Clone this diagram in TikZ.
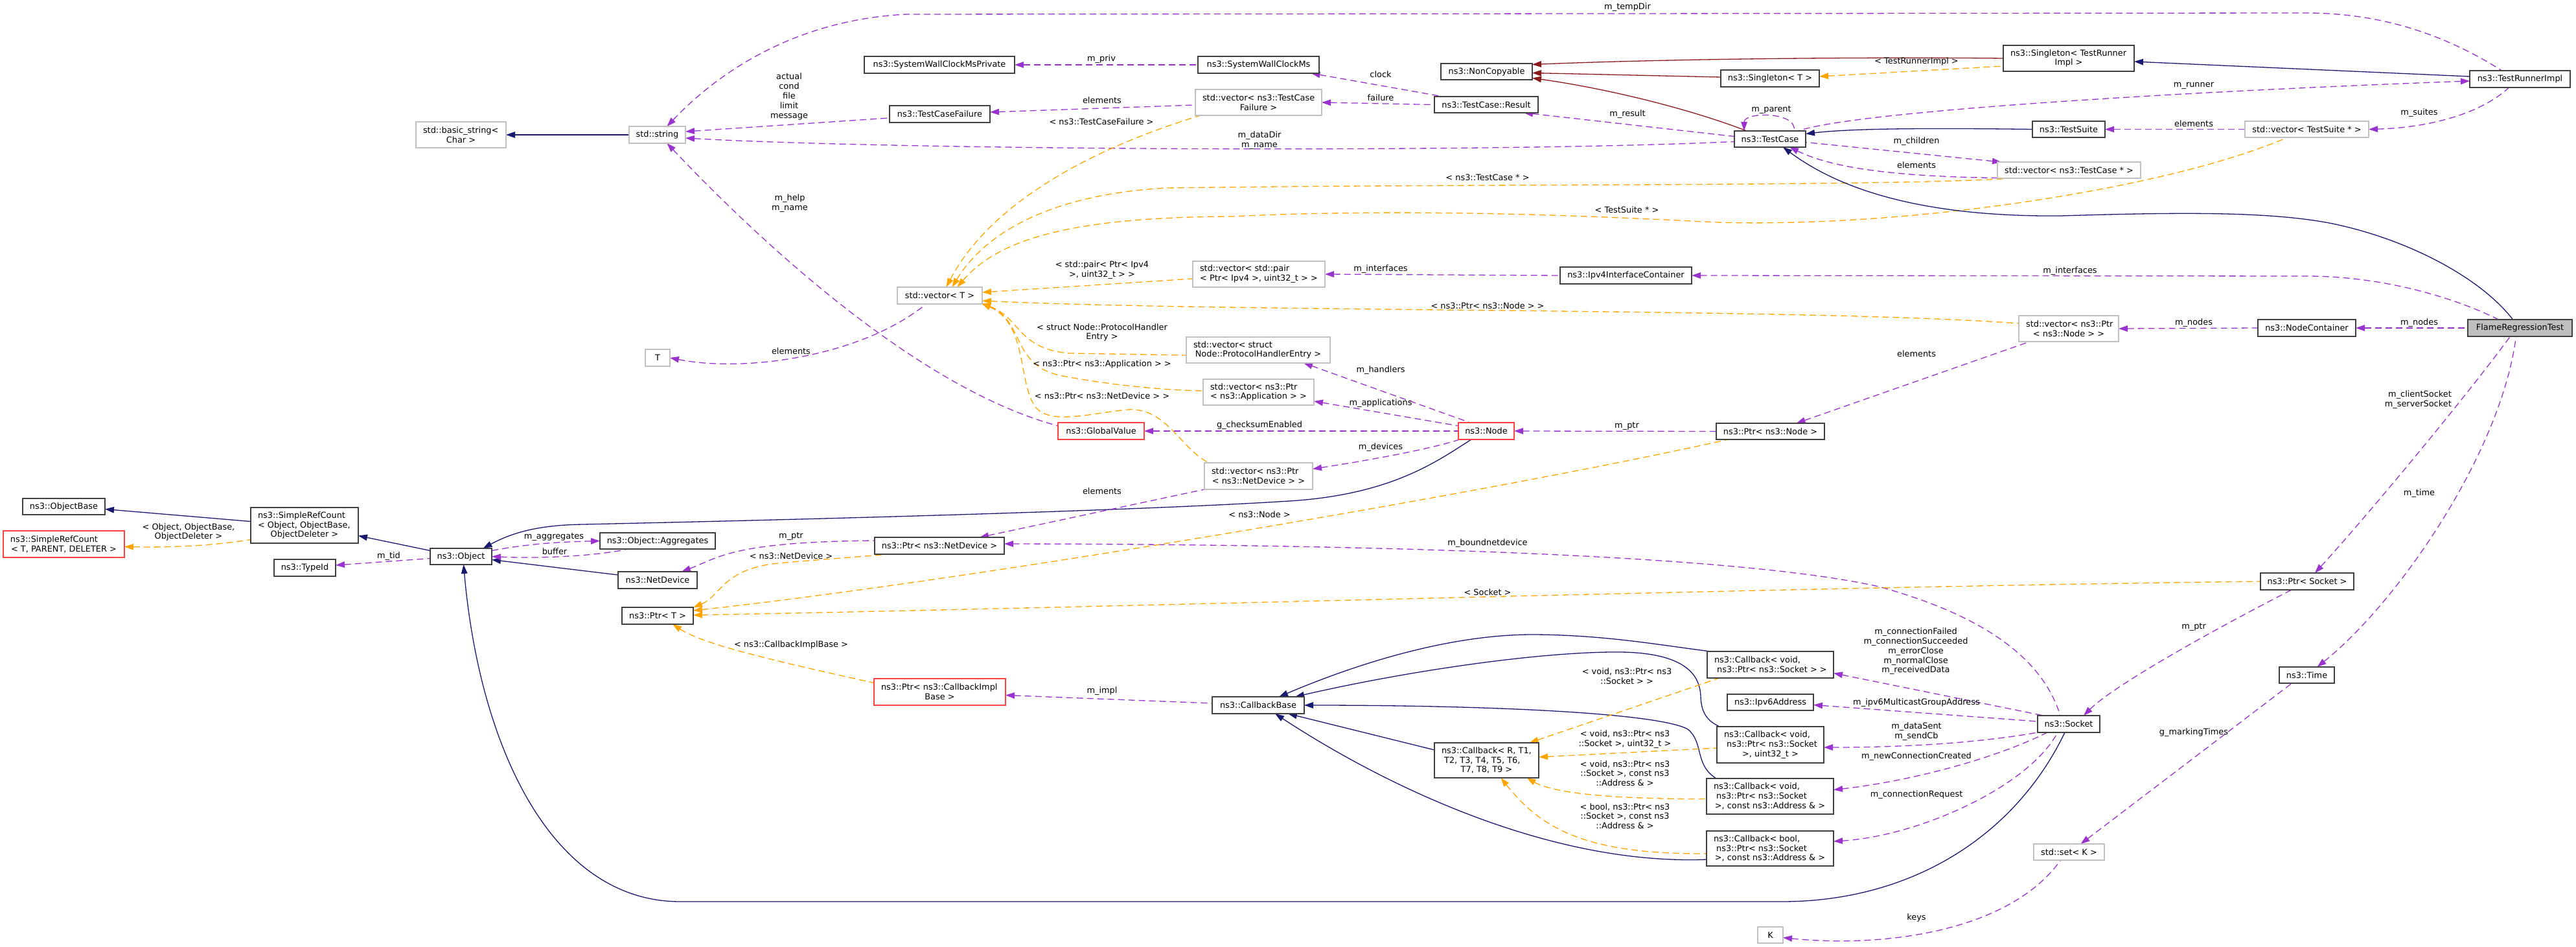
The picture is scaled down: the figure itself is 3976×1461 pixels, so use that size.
\documentclass[tikz,border=0pt]{standalone}
\usepackage{fontspec}
\setmainfont{DejaVu Sans}
\usetikzlibrary{arrows.meta}
\definecolor{usec}{HTML}{9A32CD}
\definecolor{tplc}{HTML}{FFA500}
\definecolor{inhc}{HTML}{191970}
\definecolor{prvc}{HTML}{8B1A1A}
\definecolor{greyb}{HTML}{C0C0C0}
\definecolor{mainf}{HTML}{BFBFBF}
\definecolor{redb}{HTML}{FF4040}
\definecolor{darkb}{HTML}{404040}
\newcommand\dfs{\fontsize{12.9}{14.8}\selectfont}
\pgfdeclarelayer{edges}
\pgfsetlayers{edges,main}
\newcommand{\mkbox}[7]{%
  \pgfmathsetmacro\bw{#5-#3}%
  \pgfmathsetmacro\bh{#6-#4}%
  \pgfmathsetmacro\bcx{(#3+#5)/2}%
  \pgfmathsetmacro\bcy{(#4+#6)/2}%
  \node[#2, minimum width=\bw pt, minimum height=\bh pt] (#1) at (\bcx,\bcy) {#7};}
\newcommand{\MLa}[2]{\parbox{\dimexpr\bw pt-22pt\relax}{\raggedright\mbox{#1}\par\centering\mbox{#2}\par}}
\newcommand{\MLb}[3]{\parbox{\dimexpr\bw pt-22pt\relax}{\raggedright\mbox{#1}\\\mbox{#2}\par\centering\mbox{#3}\par}}
\tikzset{
 box/.style={draw=darkb, line width=1.4pt, fill=white, inner sep=0pt, outer sep=0pt, font=\dfs, text=black},
 gbox/.style={box, draw=greyb},
 rbox/.style={box, draw=redb},
 mbox/.style={box, fill=mainf},
 lbl/.style={inner sep=0pt, align=center, font=\dfs},
 conn/.style={line width=1.3pt, {Triangle[length=14pt,width=9.5pt]}-},
 inh/.style={conn, draw=inhc},
 usg/.style={conn, draw=usec, dash pattern=on 10pt off 6pt},
 tpl/.style={conn, draw=tplc, dash pattern=on 10pt off 6pt},
 prv/.style={conn, draw=prvc},
}
\begin{document}
\begin{tikzpicture}[x=1pt,y=-1pt]
\useasboundingbox (0,0) rectangle (3976,1461);
% ---------- nodes ----------
\mkbox{bstr}{gbox}{642}{188}{781}{228}{\MLa{std::basic\_string<}{Char >}}
\mkbox{str}{gbox}{971}{195}{1058}{221}{std::string}
\mkbox{tT}{gbox}{996}{539}{1034}{565}{T}
\mkbox{swcp}{box}{1334}{87}{1566}{113}{ns3::SystemWallClockMsPrivate}
\mkbox{swc}{box}{1849}{87}{2036}{113}{ns3::SystemWallClockMs}
\mkbox{tcf}{box}{1373}{163}{1528}{189}{ns3::TestCaseFailure}
\mkbox{vtcf}{gbox}{1845}{138}{2040}{178}{\MLa{std::vector< ns3::TestCase}{Failure >}}
\mkbox{vT}{gbox}{1385}{443}{1516}{469}{std::vector< T >}
\mkbox{vpair}{gbox}{1841}{403}{2045}{443}{\MLa{std::vector< std::pair}{< Ptr< Ipv4 >, uint32\_t > >}}
\mkbox{vphe}{gbox}{1831}{520}{2053}{560}{\MLa{std::vector< struct}{Node::ProtocolHandlerEntry >}}
\mkbox{vapp}{gbox}{1857}{585}{2028}{625}{\MLa{std::vector< ns3::Ptr}{< ns3::Application > >}}
\mkbox{gv}{rbox}{1633}{652}{1766}{678}{ns3::GlobalValue}
\mkbox{nc}{box}{2224}{98}{2365}{123}{ns3::NonCopyable}
\mkbox{res}{box}{2214}{149}{2374}{174}{ns3::TestCase::Result}
\mkbox{ipv4ic}{box}{2408}{412}{2611}{438}{ns3::Ipv4InterfaceContainer}
\mkbox{nnode}{rbox}{2251}{652}{2337}{678}{ns3::Node}
\mkbox{sgtri}{box}{3092}{70}{3294}{110}{\MLa{ns3::Singleton< TestRunner}{Impl >}}
\mkbox{sgT}{box}{2656}{108}{2808}{134}{ns3::Singleton< T >}
\mkbox{tc}{box}{2677}{202}{2787}{227}{ns3::TestCase}
\mkbox{ts}{box}{3137}{187}{3249}{212}{ns3::TestSuite}
\mkbox{vtc}{gbox}{3083}{250}{3304}{275}{std::vector< ns3::TestCase * >}
\mkbox{vpnode}{gbox}{3116}{487}{3270}{527}{\MLa{std::vector< ns3::Ptr}{< ns3::Node > >}}
\mkbox{pnode}{box}{2649}{653}{2816}{678}{ns3::Ptr< ns3::Node >}
\mkbox{tri}{box}{3812}{109}{3967}{135}{ns3::TestRunnerImpl}
\mkbox{vts}{gbox}{3465}{187}{3656}{212}{std::vector< TestSuite * >}
\mkbox{ncont}{box}{3485}{493}{3636}{519}{ns3::NodeContainer}
\mkbox{frt}{mbox}{3809}{493}{3970}{519}{FlameRegressionTest}
\mkbox{obase}{box}{35}{769}{162}{794}{ns3::ObjectBase}
\mkbox{srcT}{rbox}{5}{819}{192}{860}{\MLa{ns3::SimpleRefCount}{< T, PARENT, DELETER >}}
\mkbox{srcO}{box}{387}{783}{553}{838}{\MLb{ns3::SimpleRefCount}{< Object, ObjectBase,}{ObjectDeleter >}}
\mkbox{tid}{box}{423}{863}{518}{889}{ns3::TypeId}
\mkbox{obj}{box}{664}{846}{759}{871}{ns3::Object}
\mkbox{aggr}{box}{926}{822}{1104}{847}{ns3::Object::Aggregates}
\mkbox{ndev}{box}{954}{882}{1076}{908}{ns3::NetDevice}
\mkbox{ptrT}{box}{960}{937}{1070}{963}{ns3::Ptr< T >}
\mkbox{vndev}{gbox}{1859}{714}{2026}{755}{\MLa{std::vector< ns3::Ptr}{< ns3::NetDevice > >}}
\mkbox{pndev}{box}{1350}{829}{1550}{855}{ns3::Ptr< ns3::NetDevice >}
\mkbox{pcib}{rbox}{1349}{1047}{1552}{1088}{\MLa{ns3::Ptr< ns3::CallbackImpl}{Base >}}
\mkbox{cbb}{box}{1871}{1075}{2013}{1101}{ns3::CallbackBase}
\mkbox{cbR}{box}{2214}{1146}{2375}{1200}{\MLb{ns3::Callback< R, T1,}{\ T2, T3, T4, T5, T6,}{T7, T8, T9 >}}
\mkbox{cbv}{box}{2635}{1005}{2830}{1046}{\MLa{ns3::Callback< void,}{\ ns3::Ptr< ns3::Socket > >}}
\mkbox{ipv6}{box}{2666}{1071}{2799}{1096}{ns3::Ipv6Address}
\mkbox{sock}{box}{3145}{1104}{3241}{1130}{ns3::Socket}
\mkbox{cbvu}{box}{2650}{1121}{2815}{1177}{\MLb{ns3::Callback< void,}{\ ns3::Ptr< ns3::Socket}{>, uint32\_t >}}
\mkbox{cbva}{box}{2634}{1201}{2830}{1256}{\MLb{ns3::Callback< void,}{\ ns3::Ptr< ns3::Socket}{>, const ns3::Address \& >}}
\mkbox{cbba}{box}{2634}{1282}{2830}{1336}{\MLb{ns3::Callback< bool,}{\ ns3::Ptr< ns3::Socket}{>, const ns3::Address \& >}}
\mkbox{setK}{gbox}{3139}{1302}{3248}{1327}{std::set< K >}
\mkbox{tK}{gbox}{2713}{1430}{2752}{1455}{K}
\mkbox{psock}{box}{3489}{884}{3633}{910}{ns3::Ptr< Socket >}
\mkbox{ttime}{box}{3518}{1029}{3603}{1054}{ns3::Time}
% ---------- labels ----------
\node[lbl] (l1) at (2512,11) {m\_tempDir};
\node[lbl] (l2) at (1218,149) {actual\\cond\\file\\limit\\message};
\node[lbl] (l3) at (1219,314) {m\_help\\m\_name};
\node[lbl] (l4) at (1221,542) {elements};
\node[lbl] (l5) at (1700,91) {m\_priv};
\node[lbl] (l6) at (1701,155) {elements};
\node[lbl] (l7) at (1700,188) {< ns3::TestCaseFailure >};
\node[lbl] (l8) at (1944,217) {m\_dataDir\\m\_name};
\node[lbl] (l9) at (1701,417) {< std::pair< Ptr< Ipv4\\>, uint32\_t > >};
\node[lbl] (l10) at (1701,513) {< struct Node::ProtocolHandler\\Entry >};
\node[lbl] (l11) at (1701,562) {< ns3::Ptr< ns3::Application > >};
\node[lbl] (l12) at (1701,611) {< ns3::Ptr< ns3::NetDevice > >};
\node[lbl] (l13) at (1944,656) {g\_checksumEnabled};
\node[lbl] (l14) at (2131,115) {clock};
\node[lbl] (l15) at (2131,151) {failure};
\node[lbl] (l16) at (2512,176) {m\_result};
\node[lbl] (l17) at (2296,274) {< ns3::TestCase * >};
\node[lbl] (l18) at (2511,324) {< TestSuite * >};
\node[lbl] (l19) at (2131,415) {m\_interfaces};
\node[lbl] (l20) at (2296,472) {< ns3::Ptr< ns3::Node > >};
\node[lbl] (l21) at (2131,571) {m\_handlers};
\node[lbl] (l22) at (2131,622) {m\_applications};
\node[lbl] (l23) at (2511,657) {m\_ptr};
\node[lbl] (l24) at (2131,690) {m\_devices};
\node[lbl] (l25) at (2958,95) {< TestRunnerImpl >};
\node[lbl] (l26) at (2734,169) {m\_parent};
\node[lbl] (l27) at (2958,218) {m\_children};
\node[lbl] (l28) at (2958,255) {elements};
\node[lbl] (l29) at (3195,418) {m\_interfaces};
\node[lbl] (l30) at (2958,546) {elements};
\node[lbl] (l31) at (3386,132) {m\_runner};
\node[lbl] (l32) at (3386,191) {elements};
\node[lbl] (l33) at (3734,174) {m\_suites};
\node[lbl] (l34) at (3386,498) {m\_nodes};
\node[lbl] (l35) at (3734,498) {m\_nodes};
\node[lbl, align=right, anchor=east] (l36) at (3784,617) {m\_clientSocket\\m\_serverSocket};
\node[lbl] (l37) at (291,821) {< Object, ObjectBase,\\ObjectDeleter >};
\node[lbl] (l38) at (600,858) {m\_tid};
\node[lbl] (l39) at (855,828) {m\_aggregates};
\node[lbl] (l40) at (856,851) {buffer};
\node[lbl] (l41) at (1221,827) {m\_ptr};
\node[lbl] (l42) at (1221,858) {< ns3::NetDevice >};
\node[lbl] (l43) at (1221,995) {< ns3::CallbackImplBase >};
\node[lbl] (l44) at (1701,758) {elements};
\node[lbl] (l45) at (1944,794) {< ns3::Node >};
\node[lbl] (l46) at (1701,1066) {m\_impl};
\node[lbl] (l47) at (2296,838) {m\_boundnetdevice};
\node[lbl] (l48) at (2296,914) {< Socket >};
\node[lbl] (l49) at (2511,1043) {< void, ns3::Ptr< ns3\\::Socket > >};
\node[lbl] (l50) at (2508,1141) {< void, ns3::Ptr< ns3\\::Socket >, uint32\_t >};
\node[lbl] (l51) at (2508,1193) {< void, ns3::Ptr< ns3\\::Socket >, const ns3\\::Address \& >};
\node[lbl] (l52) at (2508,1259) {< bool, ns3::Ptr< ns3\\::Socket >, const ns3\\::Address \& >};
\node[lbl] (l53) at (2957,1005) {m\_connectionFailed\\m\_connectionSucceeded\\m\_errorClose\\m\_normalClose\\m\_receivedData};
\node[lbl] (l54) at (2958,1084) {m\_ipv6MulticastGroupAddress};
\node[lbl] (l55) at (2958,1129) {m\_dataSent\\m\_sendCb};
\node[lbl] (l56) at (2958,1167) {m\_newConnectionCreated};
\node[lbl] (l57) at (2958,1226) {m\_connectionRequest};
\node[lbl] (l58) at (2958,1416) {keys};
\node[lbl] (l59) at (3734,761) {m\_time};
\node[lbl] (l60) at (3386,967) {m\_ptr};
\node[lbl] (l61) at (3386,1130) {g\_markingTimes};
% ---------- edges ----------
\begin{pgfonlayer}{edges}
\draw[inh] (bstr.east) -- (str.west);
\draw[usg] ([xshift=15pt]str.north) .. controls (1110,110) and (1230,30) .. (1400,22) -- (3560,20) .. controls (3700,20) and (3800,70) .. ([xshift=-28pt]tri.north);
\draw[usg] ([yshift=5pt]str.east) -- ([yshift=-6pt]tcf.west);
\draw[usg] ([yshift=-5pt]str.east) .. controls (1400,232) and (2300,236) .. ([yshift=-4pt]tc.west);
\draw[usg] ([xshift=15pt]str.south) .. controls (1180,380) and (1420,600) .. ([yshift=8pt]gv.west);
\draw[usg] (tT.east) .. controls (1150,575) and (1330,550) .. ([xshift=-21pt]vT.south);
\draw[usg] (swcp.east) -- (swc.west);
\draw[usg] ([yshift=3pt]tcf.east) -- ([yshift=-4pt]vtcf.west);
\draw[tpl] ([xshift=10pt]vT.north) .. controls (1520,330) and (1650,240) .. ([xshift=8pt]vtcf.south west);
\draw[tpl] ([xshift=19pt]vT.north) .. controls (1520,360) and (1620,300) .. (1800,290) .. controls (2300,283) and (2900,288) .. ([xshift=-85pt]vtc.south);
\draw[tpl] ([xshift=27pt]vT.north) .. controls (1540,370) and (1650,335) .. (1900,334) .. controls (2150,322) and (2400,330) .. (2650,343) .. controls (2950,352) and (3350,290) .. ([xshift=-30pt]vts.south);
\draw[tpl] ([yshift=5pt]vT.east) -- ([yshift=-7pt]vpair.west);
\draw[tpl] ([yshift=-8pt]vT.east) .. controls (1900,482) and (2800,475) .. ([yshift=8pt]vpnode.west);
\draw[tpl] ([xshift=-1pt,yshift=1pt]vT.south east) .. controls (1575,490) and (1570,538) .. (1650,545) -- ([yshift=-8pt]vphe.west);
\draw[tpl] ([xshift=-1pt,yshift=1pt]vT.south east) .. controls (1582,495) and (1560,565) .. (1640,580) .. controls (1720,595) and (1800,602) .. ([yshift=2pt]vapp.west);
\draw[tpl] ([xshift=-1pt,yshift=1pt]vT.south east) .. controls (1588,500) and (1570,595) .. (1600,630) .. controls (1625,655) and (1680,638) .. (1740,632) .. controls (1800,628) and (1820,690) .. ([xshift=-77pt]vndev.north);
\draw[usg] ([xshift=81pt]swc.south) -- ([xshift=-67pt]res.north);
\draw[usg] (vtcf.east) -- (res.west);
\draw[usg] ([xshift=58pt]res.south) -- ([yshift=4pt]tc.west);
\draw[prv] ([yshift=11pt]nc.east) .. controls (2600,90) and (2900,88) .. (sgtri.west);
\draw[prv] ([yshift=-2pt]nc.east) -- ([yshift=2pt]sgT.west);
\draw[prv] ([yshift=-10pt]nc.east) .. controls (2470,135) and (2600,165) .. ([xshift=-36pt]tc.north);
\draw[tpl] ([yshift=3pt]sgT.east) -- ([yshift=-12pt]sgtri.west);
\draw[inh] ([yshift=-5pt]sgtri.east) -- ([yshift=4pt]tri.west);
\draw[usg] ([xshift=-40pt]tc.north) .. controls (2692,172) and (2775,172) .. ([xshift=37pt]tc.north);
\draw[usg] ([yshift=-3pt]tri.west) .. controls (3400,140) and (2870,170) .. ([xshift=43pt]tc.north);
\draw[inh] ([yshift=8pt]tc.east) .. controls (2850,199) and (2950,197) .. (ts.west);
\draw[usg] (ts.east) -- (vts.west);
\draw[usg] (vts.east) .. controls (3750,197) and (3830,175) .. ([xshift=-17pt]tri.south);
\draw[usg] ([xshift=6pt]vtc.north west) -- ([yshift=-5pt]tc.east);
\draw[usg] ([xshift=30pt]tc.south) .. controls (2820,255) and (2900,272) .. ([yshift=-12pt]vtc.west);
\draw[inh] ([xshift=20pt]tc.south) .. controls (2830,285) and (2950,335) .. (3180,333) .. controls (3350,328) and (3500,325) .. (3600,345) .. controls (3720,370) and (3830,430) .. ([xshift=-11pt]frt.north);
\draw[usg] (ipv4ic.east) -- (3560,426) .. controls (3680,426) and (3790,460) .. ([xshift=-33pt]frt.north);
\draw[usg] (vpair.east) -- (ipv4ic.west);
\draw[usg] (vpnode.east) -- (ncont.west);
\draw[usg] (ncont.east) -- (frt.west);
\draw[usg] ([xshift=40pt]pnode.north) -- ([xshift=-60pt]vpnode.south);
\draw[usg] (nnode.east) -- (pnode.west);
\draw[usg] (gv.east) -- (nnode.west);
\draw[usg] ([xshift=70pt]vphe.south) -- ([xshift=-25pt]nnode.north);
\draw[usg] ([yshift=-14pt]vapp.east) -- ([yshift=8pt]nnode.west);
\draw[usg] ([yshift=11pt]vndev.east) .. controls (2100,712) and (2200,695) .. ([xshift=2pt]nnode.south west);
\draw[inh] ([xshift=34pt]obj.north) .. controls (790,822) and (830,810) .. (900,809) .. controls (1400,798) and (1800,785) .. (1990,773) .. controls (2150,763) and (2220,710) .. ([xshift=-23pt]nnode.south);
\draw[usg] ([xshift=62pt]pndev.north) -- (vndev.south west);
\draw[usg] ([xshift=37pt]ndev.north) .. controls (1110,860) and (1130,836) .. ([yshift=8pt]pndev.west);
\draw[usg] ([yshift=3pt]pndev.east) .. controls (2200,840) and (2700,860) .. (2900,905) .. controls (3100,960) and (3160,1040) .. ([xshift=-13pt]sock.north);
\draw[tpl] (ptrT.north east) .. controls (1112,920) and (1115,878) .. (1200,869) .. controls (1280,862) and (1340,858) .. ([xshift=-79pt]pndev.south);
\draw[tpl] ([yshift=8pt]ptrT.east) .. controls (1500,895) and (2300,760) .. ([xshift=-65pt]pnode.south);
\draw[tpl] ([yshift=1pt]ptrT.east) .. controls (1800,935) and (2800,905) .. (psock.west);
\draw[tpl] ([xshift=23pt]ptrT.south) .. controls (1080,990) and (1150,1010) .. ([yshift=14pt]pcib.west);
\draw[usg] ([yshift=-5pt]pcib.east) -- ([yshift=3pt]cbb.west);
\draw[inh] ([yshift=-5pt]obj.east) -- ([yshift=8pt]ndev.west);
\draw[usg] (aggr.west) .. controls (870,836) and (820,838) .. ([yshift=9pt]obj.east);
\draw[usg] (obj.east) .. controls (830,862) and (920,858) .. ([xshift=-46pt]aggr.south);
\draw[usg] ([yshift=4pt]tid.east) -- ([yshift=-3pt]obj.west);
\draw[inh] ([yshift=-16pt]srcO.east) -- ([yshift=9pt]obj.west);
\draw[inh] ([yshift=-4pt]obase.east) -- ([yshift=6pt]srcO.west);
\draw[tpl] ([yshift=-4pt]srcT.east) .. controls (280,845) and (340,840) .. ([yshift=-22pt]srcO.west);
\draw[inh] ([xshift=4pt]obj.south) .. controls (740,1150) and (850,1391) .. (1050,1391) -- (2750,1391) .. controls (2950,1391) and (3110,1290) .. ([xshift=-6pt]sock.south);
\draw[inh] ([xshift=46pt]cbb.south) -- ([yshift=16pt]cbR.west);
\draw[inh] ([xshift=32pt]cbb.north) .. controls (2080,1030) and (2230,978) .. (2370,979) .. controls (2480,980) and (2560,995) .. ([xshift=5pt]cbv.north west);
\draw[inh] ([xshift=57pt]cbb.north) .. controls (2150,1040) and (2350,1008) .. (2485,1006) .. controls (2600,1004) and (2624,1040) .. (2625,1075) .. controls (2626,1100) and (2635,1112) .. ([xshift=4pt]cbvu.north west);
\draw[inh] (cbb.east) .. controls (2300,1088) and (2560,1100) .. (2605,1125) .. controls (2630,1145) and (2615,1180) .. ([xshift=15pt]cbva.north west);
\draw[inh] ([xshift=26pt]cbb.south) .. controls (2150,1220) and (2400,1335) .. ([yshift=-17pt]cbba.west);
\draw[tpl] ([xshift=66pt]cbR.north) -- ([xshift=19pt]cbv.south west);
\draw[tpl] ([yshift=5pt]cbR.east) -- ([yshift=-5pt]cbvu.west);
\draw[tpl] ([xshift=62pt]cbR.south) .. controls (2400,1225) and (2500,1233) .. ([yshift=-4pt]cbva.west);
\draw[tpl] ([xshift=22pt]cbR.south) .. controls (2380,1280) and (2450,1318) .. ([yshift=-8pt]cbba.west);
\draw[usg] ([yshift=-13pt]cbv.east) -- ([xshift=9pt]sock.north west);
\draw[usg] ([yshift=-4pt]ipv6.east) -- ([yshift=4pt]sock.west);
\draw[usg] ([yshift=-4pt]cbvu.east) .. controls (2950,1153) and (3060,1145) .. (sock.south west);
\draw[usg] ([yshift=10pt]cbva.east) .. controls (2950,1205) and (3080,1170) .. ([xshift=-33pt]sock.south);
\draw[usg] ([yshift=11pt]cbba.east) .. controls (2960,1290) and (3130,1215) .. ([xshift=-17pt]sock.south);
\draw[usg] ([xshift=23pt]sock.north) .. controls (3260,1060) and (3400,980) .. ([xshift=-24pt]psock.south);
\draw[usg] ([xshift=12pt]psock.north) .. controls (3650,800) and (3800,620) .. ([xshift=-15pt]frt.south);
\draw[usg] ([xshift=16pt]ttime.north) .. controls (3700,930) and (3860,700) .. ([xshift=-6pt]frt.south);
\draw[usg] ([xshift=18pt]setK.north) -- ([xshift=-23pt]ttime.south);
\draw[usg] ([yshift=-4pt]tK.east) .. controls (2900,1462) and (3100,1440) .. ([xshift=-13pt]setK.south);
\end{pgfonlayer}
\end{tikzpicture}
\end{document}
